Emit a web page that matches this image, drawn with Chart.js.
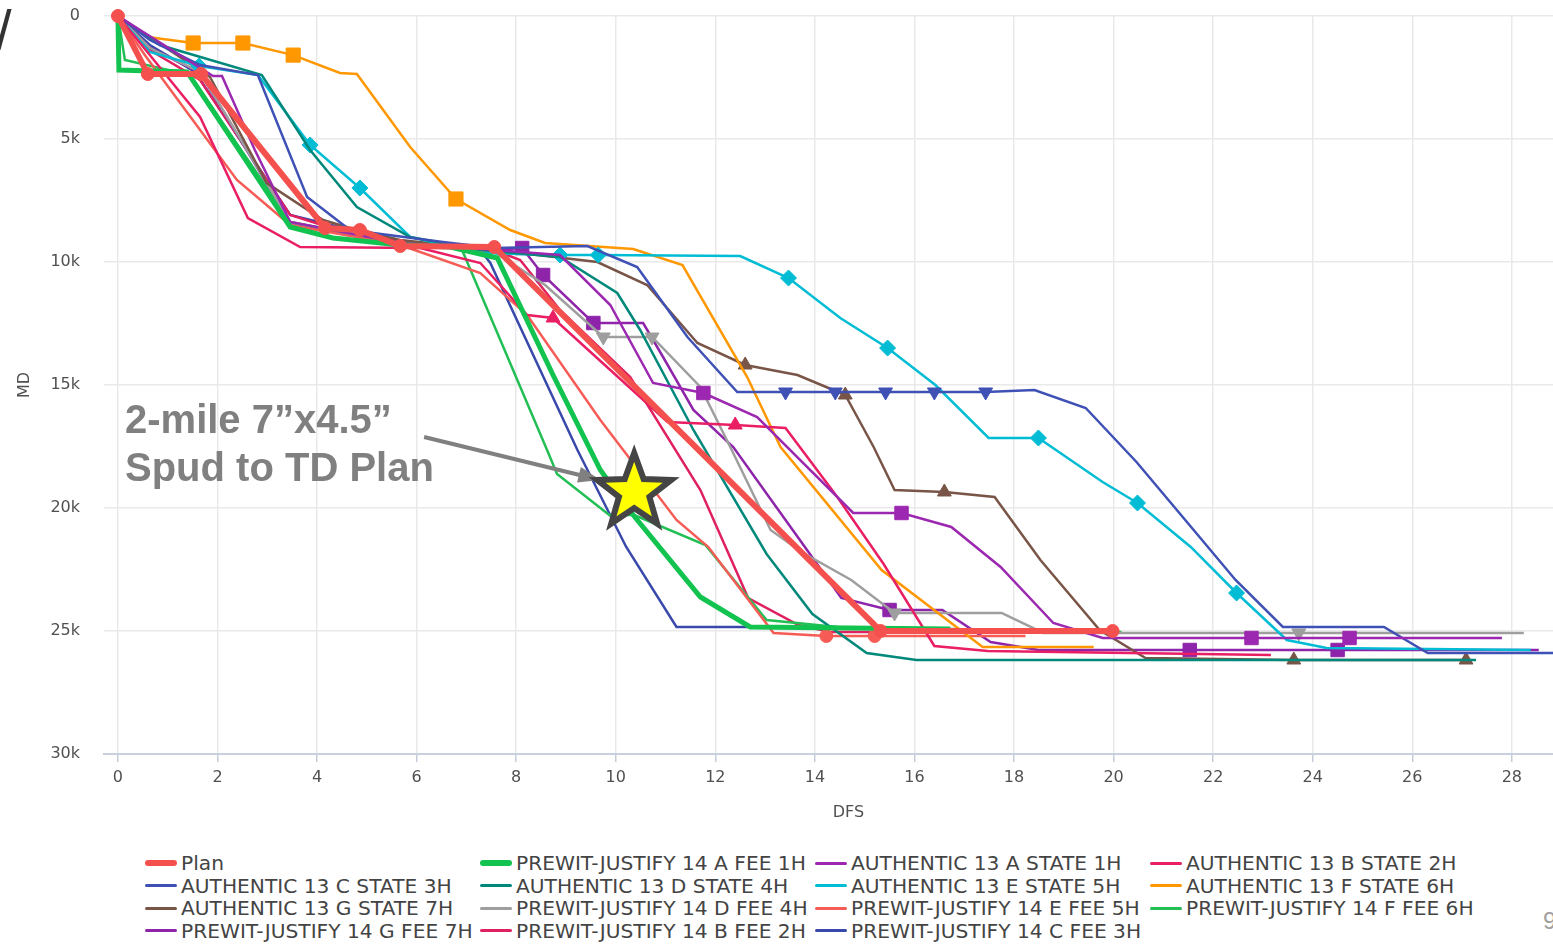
<!DOCTYPE html>
<html lang="en">
<head>
<meta charset="UTF-8">
<title>DFS vs MD</title>
<script src="https://cdn.jsdelivr.net/npm/chart.js"></script>
<style>
    html, body { margin: 0; padding: 0; background: #fff; overflow: hidden; }
    body { width: 1553px; height: 944px; position: relative; font-family: 'DejaVu Sans', sans-serif; }
    #wrap { position: absolute; left: 0; top: 0; width: 1602px; height: 840px; }
    .note { position: absolute; left: 125px; top: 395px; font: bold 40px/48px 'Liberation Sans', Arial, sans-serif; color: #808080; white-space: nowrap; }
    .corner { position: absolute; left: -4px; top: -2px; font: 56px/64px 'Liberation Sans', sans-serif; color: #333; }
    .page { position: absolute; left: 1543px; top: 906px; font: 24px/30px 'Liberation Sans', sans-serif; color: #a0a0a0; }
    #legend { position: absolute; left: 145px; top: 852px; display: grid; grid-template-columns: repeat(4, 335px); grid-auto-rows: 22.5px; }
    .item { display: flex; align-items: center; font-size: 20.2px; color: #444; white-space: nowrap; }
    .swatch { width: 32px; height: 3px; border-radius: 2px; margin-right: 4px; flex: none; }
</style>
</head>
<body>
<div class="corner">/</div>
<div id="wrap"><canvas id="chart"></canvas></div>
<div class="note">2-mile 7”x4.5”<br>Spud to TD Plan</div>
<div id="legend"></div>
<div class="page">9</div>

<script>
    // axis ticks
    const xTicks = [0, 2, 4, 6, 8, 10, 12, 14, 16, 18, 20, 22, 24, 26, 28];
    const yTicks = [0, 5000, 10000, 15000, 20000, 25000, 30000];
    const yTickLabels = ['0', '5k', '10k', '15k', '20k', '25k', '30k'];

    // DFS (x) / MD (y) per well
    const planX = [0, 0.60, 1.67, 4.16, 4.86, 5.67, 7.56, 15.32, 19.98];
    const planY = [0, 2358, 2358, 8618, 8699, 9350, 9390, 25000, 25000];

    const pj14aX = [0, 0.02, 1.39, 3.46, 4.32, 5.67, 6.67, 7.62, 8.74, 9.69, 10.35, 11.70, 12.70, 16.72];
    const pj14aY = [0, 2195, 2276, 8577, 9024, 9309, 9390, 9837, 14594, 18455, 20284, 23618, 24837, 24918];

    const au13aX = [0, 1.91, 2.09, 2.75, 3.46, 5.67, 7.56, 8.88, 9.89, 10.75, 11.76, 12.84, 14.77, 15.74, 16.74, 17.73, 18.79, 19.78, 22.77, 24.74, 27.80];
    const au13aY = [0, 2439, 2439, 5447, 8374, 9228, 9512, 9715, 11748, 14919, 15325, 16301, 20203, 20203, 20772, 22398, 24675, 25284, 25284, 25284, 25284];

    const au13bX = [0, 0.64, 1.65, 2.61, 3.66, 6.07, 7.28, 8.22, 8.74, 11.04, 12.40, 13.41, 14.45, 15.38, 16.40, 17.47, 23.16];
    const au13bY = [0, 1585, 4106, 8211, 9390, 9431, 10041, 12154, 12276, 16504, 16626, 16748, 19553, 22276, 25610, 25813, 25976];

    const au13cX = [0, 0.64, 1.65, 2.81, 3.80, 4.66, 6.53, 7.56, 9.43, 10.43, 11.44, 12.44, 13.41, 14.41, 15.42, 16.40, 17.43, 18.41, 19.44, 20.46, 21.49, 22.45, 23.40, 25.43, 26.31, 28.84];
    const au13cY = [0, 976, 1992, 2398, 7358, 8699, 9187, 9431, 9350, 10203, 13049, 15284, 15284, 15284, 15284, 15284, 15284, 15203, 15935, 18130, 20610, 22927, 24837, 24837, 25894, 25894];

    const au13dX = [0, 0.84, 2.89, 3.86, 4.80, 5.87, 7.28, 8.88, 10.03, 10.49, 11.56, 13.03, 13.95, 15.04, 16.04, 27.28];
    const au13dY = [0, 1179, 2398, 5447, 7764, 8984, 9512, 9797, 11260, 12764, 16829, 21870, 24309, 25894, 26179, 26179];

    const au13eX = [0, 0.64, 1.63, 2.81, 3.86, 4.86, 5.87, 7.28, 8.88, 9.65, 12.50, 13.47, 14.51, 15.46, 16.42, 17.49, 18.49, 19.78, 20.48, 21.55, 22.47, 23.48, 24.28, 28.38];
    const au13eY = [0, 1463, 2033, 2398, 5244, 6992, 8984, 9634, 9715, 9715, 9756, 10650, 12276, 13496, 15000, 17154, 17154, 18943, 19797, 21585, 23455, 25366, 25691, 25772];

    const au13fX = [0, 0.60, 1.51, 2.51, 3.52, 4.46, 4.80, 5.87, 6.79, 7.88, 8.58, 10.35, 11.34, 12.64, 13.31, 15.34, 17.37, 19.60];
    const au13fY = [0, 854, 1098, 1098, 1590, 2317, 2358, 5325, 7439, 8699, 9228, 9472, 10122, 14675, 17520, 22520, 25650, 25650];

    const au13gX = [0, 1.85, 2.99, 4.12, 4.66, 5.67, 7.56, 9.63, 10.63, 11.64, 12.60, 13.65, 14.37, 14.61, 15.18, 15.60, 16.60, 17.61, 18.53, 19.72, 20.64, 23.62, 27.08];
    const au13gY = [0, 2480, 6789, 8293, 8618, 9106, 9512, 10000, 10935, 13293, 14187, 14594, 15203, 15407, 17520, 19268, 19349, 19553, 22114, 24959, 26098, 26179, 26179];

    const pj14dX = [0, 0.64, 1.65, 3.46, 5.67, 7.56, 8.58, 9.75, 10.73, 11.70, 12.30, 13.11, 13.73, 14.73, 15.60, 17.75, 18.59, 23.72, 28.24];
    const pj14dY = [0, 1301, 2276, 8374, 9228, 9593, 10935, 13049, 13049, 15081, 17520, 20894, 21788, 22927, 24268, 24268, 25081, 25081, 25081];

    const pj14eX = [0, 0.54, 2.39, 3.46, 5.67, 7.28, 8.22, 9.69, 11.22, 11.86, 13.17, 14.23, 15.20, 18.23];
    const pj14eY = [0, 1585, 6667, 8496, 9309, 10447, 12154, 16423, 20488, 21585, 25081, 25203, 25203, 25203];

    const pj14fX = [0, 0.14, 1.45, 3.46, 5.67, 6.87, 7.28, 8.62, 8.82, 9.87, 10.37, 11.80, 13.03, 14.45, 20.16];
    const pj14fY = [0, 1789, 2398, 8374, 9228, 9309, 11260, 17642, 18618, 20284, 20284, 21504, 24553, 24837, 25040];

    const pj14gX = [0, 0.64, 1.65, 3.46, 5.67, 7.56, 8.12, 8.54, 9.55, 10.55, 10.95, 11.56, 12.36, 14.13, 14.53, 15.50, 16.56, 17.53, 18.49, 21.53, 24.50, 28.54];
    const pj14gY = [0, 1300, 2300, 8400, 9268, 9512, 9431, 10528, 12480, 12480, 13862, 16016, 17520, 22520, 23658, 24146, 24146, 25447, 25772, 25772, 25772, 25772];

    const pj14bX = [0, 0.64, 1.65, 3.46, 4.86, 7.56, 8.08, 8.88, 10.29, 11.70, 12.66, 13.67, 14.31, 18.41];
    const pj14bY = [0, 1382, 2602, 8089, 8984, 9512, 9919, 11951, 14675, 19268, 23658, 24756, 25040, 25040];

    const pj14cX = [0, 0.64, 1.55, 3.46, 5.67, 7.28, 7.48, 9.23, 10.21, 11.22, 12.66];
    const pj14cY = [0, 1179, 2276, 8089, 9187, 9512, 10041, 17642, 21585, 24837, 24837];

    // annotation (data coordinates)
    const noteArrow = { from: [6.15, 17114], to: [9.69, 18862] };
    const noteStar = [10.37, 19350];

    const series = [
        { label: 'Plan', x: planX, y: planY, color: '#f4514e', width: 6, style: 'circle', r: 6.5, marks: 'all' },
        { label: 'PREWIT-JUSTIFY 14 A FEE 1H', x: pj14aX, y: pj14aY, color: '#12c350', width: 5 },
        { label: 'AUTHENTIC 13 A STATE 1H', x: au13aX, y: au13aY, color: '#9c27b0', style: 'rect', r: 9.5, marks: [10, 13, 18, 19] },
        { label: 'AUTHENTIC 13 B STATE 2H', x: au13bX, y: au13bY, color: '#e91e63', style: 'triangle', r: 8, marks: [8, 10] },
        { label: 'AUTHENTIC 13 C STATE 3H', x: au13cX, y: au13cY, color: '#3f51b5', style: 'triangle', rot: 180, r: 8, marks: [12, 13, 14, 15, 16] },
        { label: 'AUTHENTIC 13 D STATE 4H', x: au13dX, y: au13dY, color: '#00897b' },
        { label: 'AUTHENTIC 13 E STATE 5H', x: au13eX, y: au13eY, color: '#00bcd4', style: 'rectRot', r: 8, marks: [2, 4, 5, 8, 9, 11, 13, 16, 18, 20] },
        { label: 'AUTHENTIC 13 F STATE 6H', x: au13fX, y: au13fY, color: '#ff9800', style: 'rect', r: 10, marks: [2, 3, 4, 8] },
        { label: 'AUTHENTIC 13 G STATE 7H', x: au13gX, y: au13gY, color: '#795548', style: 'triangle', r: 8, marks: [10, 13, 16, 21, 22] },
        { label: 'PREWIT-JUSTIFY 14 D FEE 4H', x: pj14dX, y: pj14dY, color: '#9e9e9e', style: 'triangle', rot: 180, r: 8, marks: [7, 8, 14, 17] },
        { label: 'PREWIT-JUSTIFY 14 E FEE 5H', x: pj14eX, y: pj14eY, color: '#f75b55', style: 'circle', r: 6.5, marks: [11, 12] },
        { label: 'PREWIT-JUSTIFY 14 F FEE 6H', x: pj14fX, y: pj14fY, color: '#22bf55' },
        { label: 'PREWIT-JUSTIFY 14 G FEE 7H', x: pj14gX, y: pj14gY, color: '#8e24aa', style: 'rect', r: 9.5, marks: [6, 7, 8, 15, 19, 20] },
        { label: 'PREWIT-JUSTIFY 14 B FEE 2H', x: pj14bX, y: pj14bY, color: '#e0215f' },
        { label: 'PREWIT-JUSTIFY 14 C FEE 3H', x: pj14cX, y: pj14cY, color: '#3949ab' }
    ];

    const datasets = series.map(s => ({
        label: s.label,
        data: s.x.map((v, i) => ({ x: v, y: s.y[i] })),
        borderColor: s.color,
        backgroundColor: s.color,
        borderWidth: s.width || 2.5,
        tension: 0,
        fill: false,
        clip: 10,
        pointStyle: s.style || 'circle',
        pointRotation: s.rot || 0,
        pointBorderWidth: 1,
        pointHoverRadius: 0,
        pointRadius: ctx => (s.marks === 'all' || (s.marks && s.marks.includes(ctx.dataIndex))) ? s.r : 0
    }));

    const annotate = {
        id: 'annotate',
        afterDatasetsDraw(chart) {
            const { ctx, scales: { x, y } } = chart;
            const x0 = x.getPixelForValue(noteArrow.from[0]), y0 = y.getPixelForValue(noteArrow.from[1]);
            const x1 = x.getPixelForValue(noteArrow.to[0]), y1 = y.getPixelForValue(noteArrow.to[1]);
            const ang = Math.atan2(y1 - y0, x1 - x0);
            ctx.save();
            ctx.strokeStyle = '#808080';
            ctx.fillStyle = '#808080';
            ctx.lineWidth = 4;
            ctx.beginPath();
            ctx.moveTo(x0, y0);
            ctx.lineTo(x1 - 16 * Math.cos(ang), y1 - 16 * Math.sin(ang));
            ctx.stroke();
            ctx.beginPath();
            ctx.moveTo(x1, y1);
            ctx.lineTo(x1 - 22 * Math.cos(ang) + 8 * Math.sin(ang), y1 - 22 * Math.sin(ang) - 8 * Math.cos(ang));
            ctx.lineTo(x1 - 22 * Math.cos(ang) - 8 * Math.sin(ang), y1 - 22 * Math.sin(ang) + 8 * Math.cos(ang));
            ctx.closePath();
            ctx.fill();

            // star
            const cx = x.getPixelForValue(noteStar[0]), cy = y.getPixelForValue(noteStar[1]);
            const R = 39, rIn = 16;
            ctx.beginPath();
            for (let i = 0; i < 10; i++) {
                const rad = i % 2 === 0 ? R : rIn;
                const a = -Math.PI / 2 + i * Math.PI / 5;
                const px = cx + rad * Math.cos(a), py = cy + rad * Math.sin(a);
                if (i === 0) ctx.moveTo(px, py); else ctx.lineTo(px, py);
            }
            ctx.closePath();
            ctx.fillStyle = '#ffff00';
            ctx.fill();
            ctx.lineWidth = 6;
            ctx.lineJoin = 'miter';
            ctx.strokeStyle = '#454545';
            ctx.stroke();
            ctx.restore();
        }
    };

    Chart.defaults.font.family = "'DejaVu Sans', sans-serif";
    Chart.defaults.color = '#505050';

    new Chart(document.getElementById('chart'), {
        type: 'line',
        data: { datasets: datasets },
        options: {
            responsive: true,
            maintainAspectRatio: false,
            animation: false,
            devicePixelRatio: 1,
            layout: { padding: { top: 16, left: 0, right: 0, bottom: 0 } },
            plugins: { legend: { display: false }, tooltip: { enabled: false } },
            scales: {
                x: {
                    type: 'linear',
                    min: -0.28,
                    max: 29.63,
                    afterBuildTicks: axis => { axis.ticks = xTicks.map(v => ({ value: v })); },
                    afterFit: scale => { scale.height = 86; },
                    grid: { color: '#e9e9e9', lineWidth: 1.5, tickLength: 8, tickColor: '#c5cddb' },
                    border: { display: true, color: '#c8d0de', width: 2 },
                    ticks: { padding: 6, font: { size: 16 }, color: '#505050', maxRotation: 0 },
                    title: { display: true, text: 'DFS', font: { size: 16 }, color: '#505050', padding: { top: 0, bottom: 18 } }
                },
                y: {
                    type: 'linear',
                    reverse: true,
                    min: 0,
                    max: 30000,
                    afterBuildTicks: axis => { axis.ticks = yTicks.map(v => ({ value: v })); },
                    afterFit: scale => { scale.width = 104; },
                    grid: { color: '#e9e9e9', lineWidth: 1.5, drawTicks: true, tickLength: 24, tickColor: 'rgba(0,0,0,0)' },
                    border: { display: false },
                    ticks: { padding: 0, font: { size: 16 }, color: '#505050', callback: (v, i) => yTickLabels[i] },
                    title: { display: true, text: 'MD', font: { size: 16 }, color: '#505050', padding: { top: 15, bottom: 0 } }
                }
            }
        },
        plugins: [annotate]
    });

    // legend laid out in four columns like the original
    const legend = document.getElementById('legend');
    series.forEach(s => {
        const item = document.createElement('div');
        item.className = 'item';
        const sw = document.createElement('span');
        sw.className = 'swatch';
        sw.style.background = s.color;
        if (s.width) { sw.style.height = '6px'; sw.style.borderRadius = '3px'; }
        item.appendChild(sw);
        item.appendChild(document.createTextNode(s.label));
        legend.appendChild(item);
    });
</script>
</body>
</html>
